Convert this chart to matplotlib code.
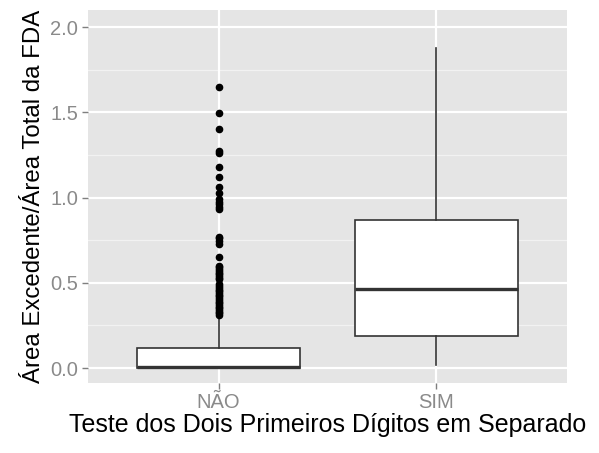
import matplotlib.pyplot as plt
import numpy as np

plt.rcParams['font.family'] = ['Liberation Sans', 'DejaVu Sans']

categories = ['NÃO', 'SIM']
q1 = [0.0, 0.188]
median = [0.005, 0.462]
q3 = [0.117, 0.868]
whisker_low = [0.0, 0.018]
whisker_high = [0.30, 1.879]
outliers_nao = [
    0.31, 0.32, 0.33, 0.34, 0.35, 0.36, 0.37, 0.38, 0.39, 0.40,
    0.41, 0.42, 0.43, 0.44, 0.45, 0.46, 0.47, 0.48, 0.49,
    0.52, 0.53, 0.54, 0.55, 0.56, 0.57, 0.58, 0.59, 0.60,
    0.65, 0.73, 0.745, 0.76, 0.77,
    0.93, 0.945, 0.96, 0.975, 0.99, 1.025, 1.063, 1.118, 1.177,
    1.26, 1.275, 1.40, 1.494, 1.65,
]
outliers_sim = []

stats = []
for i in range(len(categories)):
    stats.append({
        'q1': q1[i], 'med': median[i], 'q3': q3[i],
        'whislo': whisker_low[i], 'whishi': whisker_high[i],
        'fliers': [outliers_nao, outliers_sim][i],
    })

fig = plt.figure(figsize=(5.99, 4.53), dpi=100)
ax = fig.add_axes([0.1469, 0.1545, 0.7997, 0.8234])
ax.set_facecolor('#E5E5E5')

# grid in ggplot style: minor lines thinner than major
for y in [0.25, 0.75, 1.25, 1.75]:
    ax.axhline(y, color='#F2F2F2', lw=0.9, zorder=0)
for y in [0.0, 0.5, 1.0, 1.5, 2.0]:
    ax.axhline(y, color='white', lw=1.6, zorder=0)
for x in [1, 2]:
    ax.axvline(x, color='white', lw=1.6, zorder=0)

line = dict(color='#333333', lw=1.2)
ax.bxp(stats, positions=[1, 2], widths=0.75, patch_artist=True,
       showcaps=False,
       boxprops=dict(facecolor='white', edgecolor='#333333', lw=1.2),
       whiskerprops=line,
       medianprops=dict(color='#333333', lw=2.4),
       flierprops=dict(marker='o', markerfacecolor='black',
                       markeredgecolor='black', markersize=4.5))

ax.set_xlim(0.4, 2.6)
ax.set_ylim(-0.088, 2.1)
ax.set_xticks([1, 2])
ax.set_xticklabels(categories)
ax.set_yticks([0.0, 0.5, 1.0, 1.5, 2.0])
ax.set_yticklabels(['0.0', '0.5', '1.0', '1.5', '2.0'])
ax.tick_params(colors='#7F7F7F', labelcolor='#8A8A8A', labelsize=14.5,
               length=4, width=1, pad=3)
for s in ax.spines.values():
    s.set_visible(False)

ax.set_xlabel('Teste dos Dois Primeiros Dígitos em Separado', fontsize=18,
              color='black', labelpad=1)
ax.set_ylabel('Área Excedente/Área Total da FDA', fontsize=17.3,
              color='black', labelpad=4)

fig.savefig('out.png', dpi=100)
